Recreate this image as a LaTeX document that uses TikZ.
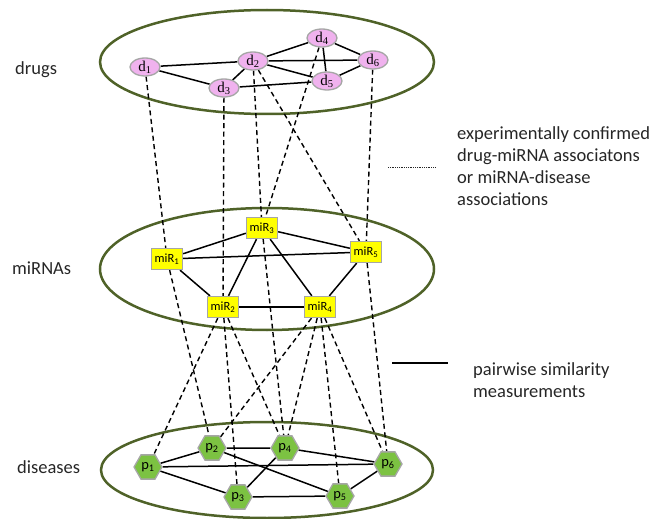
\documentclass[tikz,border=0pt]{standalone}
\usepackage{fontspec}
\setmainfont{Carlito}
\newfontfamily\serifd{Liberation Serif}
\usetikzlibrary{shapes.geometric,backgrounds}
\definecolor{olivec}{HTML}{4F6228}
\definecolor{pinkfill}{HTML}{F0B2EE}
\definecolor{greenfill}{HTML}{7CC242}
\definecolor{nodeborder}{HTML}{A6A6A6}
\definecolor{mirfill}{HTML}{FFFF00}
\definecolor{textgray}{HTML}{262626}
\begin{document}
\begin{tikzpicture}[x=1pt,y=-1pt,
  layerellipse/.style={draw=olivec, line width=2.5pt},
  drugnode/.style={ellipse, draw=nodeborder, fill=pinkfill, line width=1.3pt,
    minimum width=30pt, minimum height=18pt, inner sep=0pt,
    font=\serifd\fontsize{15}{15}\selectfont},
  mirnode/.style={rectangle, draw=nodeborder, fill=mirfill, line width=1.3pt,
    minimum width=31pt, minimum height=21pt, inner sep=0pt,
    font=\fontsize{12.5}{12.5}\selectfont},
  disnode/.style={regular polygon, regular polygon sides=6, draw=nodeborder,
    fill=greenfill, line width=1.3pt, minimum size=28pt, inner sep=0pt,
    font=\fontsize{14.5}{14.5}\selectfont},
  simline/.style={black, line width=1.5pt},
  assocline/.style={black, line width=1.4pt, dash pattern=on 5pt off 3.5pt},
  legenddots/.style={black!85, line width=0.8pt, dash pattern=on 1pt off 0.8pt},
  labeltext/.style={text=textgray, font=\fontsize{18.5}{22}\selectfont, anchor=west, inner sep=0pt, align=left}
]
\useasboundingbox (0,0) rectangle (649,519);

% drugs
\node[drugnode] (d1) at (145,67) {d\textsubscript{1}};
\node[drugnode] (d2) at (253,61) {d\textsubscript{2}};
\node[drugnode] (d3) at (224,88) {d\textsubscript{3}};
\node[drugnode] (d4) at (322,38) {d\textsubscript{4}};
\node[drugnode] (d5) at (327,81) {d\textsubscript{5}};
\node[drugnode] (d6) at (373,60) {d\textsubscript{6}};

% miRNAs
\node[mirnode] (m1) at (167,259) {miR\textsubscript{1}};
\node[mirnode] (m2) at (223,307) {miR\textsubscript{2}};
\node[mirnode] (m3) at (262,228) {miR\textsubscript{3}};
\node[mirnode] (m4) at (320,307) {miR\textsubscript{4}};
\node[mirnode] (m5) at (366,252) {miR\textsubscript{5}};

% diseases
\node[disnode] (p1) at (148,467) {p\textsubscript{1}};
\node[disnode] (p2) at (212,448) {p\textsubscript{2}};
\node[disnode] (p3) at (238,497) {p\textsubscript{3}};
\node[disnode] (p4) at (285,448) {p\textsubscript{4}};
\node[disnode] (p5) at (340,496) {p\textsubscript{5}};
\node[disnode] (p6) at (388,464) {p\textsubscript{6}};

% layer labels
\node[labeltext] (ldrugs) at (15,70) {drugs};
\node[labeltext] (lmirna) at (12,268) {miRNAs};
\node[labeltext] (ldis) at (17,467) {diseases};

% legend
\coordinate (la) at (388,167);
\coordinate (lb) at (435,167);
\draw[legenddots] (la) -- (lb);
\node[labeltext] (ltext1) at (457,166) {experimentally confirmed\\drug-miRNA associatons\\or miRNA-disease\\associations};
\coordinate (lc) at (392,363);
\coordinate (ld) at (448,363);
\draw[simline] (lc) -- (ld);
\node[labeltext] (ltext2) at (473,380) {pairwise similarity\\measurements};

\begin{pgfonlayer}{background}
  \draw[layerellipse] (267,62) ellipse [x radius=167pt, y radius=52pt];
  \draw[layerellipse] (267,269) ellipse [x radius=167pt, y radius=61pt];
  \draw[layerellipse] (267,470) ellipse [x radius=166pt, y radius=48pt];

  % similarity edges
  \draw[simline] (d1) -- (d2);
  \draw[simline] (d1) -- (d3);
  \draw[simline] (d2) -- (d3);
  \draw[simline] (d2) -- (d4);
  \draw[simline] (d2) -- (d6);
  \draw[simline] (d2) -- (d5);
  \draw[simline] (d3) -- (d5);
  \draw[simline] (d4) -- (d5);
  \draw[simline] (d4) -- (d6);
  \draw[simline] (d5) -- (d6);

  \draw[simline] (m1) -- (m3);
  \draw[simline] (m1) -- (m5);
  \draw[simline] (m1) -- (m2);
  \draw[simline] (m2) -- (m3);
  \draw[simline] (m3) -- (m4);
  \draw[simline] (m3) -- (m5);
  \draw[simline] (m4) -- (m5);
  \draw[simline] (m2) -- (m4);

  \draw[simline] (p1) -- (p2);
  \draw[simline] (p1) -- (p6);
  \draw[simline] (p1) -- (p3);
  \draw[simline] (p2) -- (p4);
  \draw[simline] (p2) -- (p5);
  \draw[simline] (p4) -- (p6);
  \draw[simline] (p3) -- (p4);
  \draw[simline] (p3) -- (p5);
  \draw[simline] (p5) -- (p6);

  % association edges
  \draw[assocline] (d1) -- (m1);
  \draw[assocline] (m1) -- (p2);
  \draw[assocline] (d3) -- (m2);
  \draw[assocline] (d2) -- (m3);
  \draw[assocline] (d4) -- (m3);
  \draw[assocline] (d2) -- (m5);
  \draw[assocline] (d6) -- (m5);
  \draw[assocline] (m2) -- (p1);
  \draw[assocline] (m2) -- (p3);
  \draw[assocline] (m2) -- (p4);
  \draw[assocline] (m3) -- (p4);
  \draw[assocline] (m4) -- (p2);
  \draw[assocline] (m4) -- (p4);
  \draw[assocline] (m4) -- (p5);
  \draw[assocline] (m4) -- (p6);
  \draw[assocline] (m5) -- (p6);
\end{pgfonlayer}
\end{tikzpicture}
\end{document}
